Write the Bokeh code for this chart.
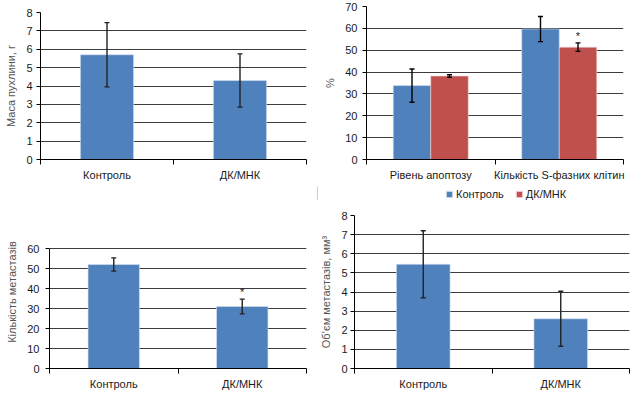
from bokeh.plotting import figure
from bokeh.models import (ColumnDataSource, Whisker, FixedTicker, Legend, LegendItem,
                          TeeHead, Range1d)
from bokeh.layouts import column, row
from bokeh.transform import dodge
from bokeh.embed import file_html
from bokeh.resources import INLINE
from bokeh.core.properties import value

# ---------------- data ----------------
groups = ["Контроль", "ДК/МНК"]

mass_mean = [5.7, 4.3]
mass_err = [1.75, 1.45]

cell_categories = ["Рівень апоптозу", "Кількість S-фазних клітин"]
cell_control = [33.8, 59.7]
cell_control_err = [7.6, 5.75]
cell_dk = [38.2, 51.4]
cell_dk_err = [0.6, 1.95]

met_count = [52, 31]
met_count_err = [3.3, 3.7]

met_volume = [5.45, 2.6]
met_volume_err = [1.75, 1.44]

# significance marks (index of the ДК/МНК bar that is starred)
star_cell_index = [1]
star_count_index = [1]

BLUE = "#4f81bd"
RED = "#c0504d"
FONT = "Liberation Sans"
TXT = "#1a1a1a"
TITLE = "#555555"
GRID = "#3c3c3c"


def base_fig(fw, fh, ymax, ystep, ylabel, labels,
             mbl, mbr, mbt, mbb, tick_std, lab_std, yview=None):
    n = len(labels)
    top = yview if yview is not None else ymax
    p = figure(frame_width=fw, frame_height=fh, x_range=Range1d(0, n),
               y_range=Range1d(0, top), output_backend="svg",
               toolbar_location=None, frame_align=False,
               min_border_left=mbl, min_border_right=mbr,
               min_border_top=mbt, min_border_bottom=mbb)
    p.outline_line_color = None
    p.background_fill_color = "white"
    p.border_fill_color = "white"
    centers = [i + 0.5 for i in range(n)]
    p.xaxis.ticker = FixedTicker(ticks=centers, minor_ticks=list(range(n + 1)))
    p.xaxis.major_label_overrides = {c: l for c, l in zip(centers, labels)}
    p.xaxis.major_tick_out = 0
    p.xaxis.major_tick_in = 0
    p.xaxis.minor_tick_out = 5
    p.xaxis.minor_tick_in = 0
    p.xaxis.major_label_standoff = 4
    p.xaxis.axis_line_color = "black"
    p.xaxis.minor_tick_line_color = "black"
    p.xgrid.grid_line_color = None

    p.yaxis.ticker = FixedTicker(ticks=list(range(0, ymax + ystep, ystep)))
    p.yaxis.bounds = (0, ymax)
    p.yaxis.minor_tick_line_color = None
    p.yaxis.major_tick_out = 4
    p.yaxis.major_tick_in = 0
    p.yaxis.major_label_standoff = tick_std
    p.yaxis.axis_line_color = "black"
    p.yaxis.major_tick_line_color = "black"
    p.yaxis.axis_label = ylabel
    p.yaxis.axis_label_standoff = lab_std
    p.ygrid.grid_line_color = GRID
    p.ygrid.grid_line_width = 1

    for ax in (p.xaxis, p.yaxis):
        ax.major_label_text_font = FONT
        ax.major_label_text_font_size = "11px"
        ax.major_label_text_color = TXT
        ax.axis_label_text_font = FONT
        ax.axis_label_text_font_size = "11px"
        ax.axis_label_text_font_style = "normal"
        ax.axis_label_text_color = TITLE
    return p


def whisker(p, src, xfield="x", color="#222222"):
    w = Whisker(base=xfield, upper="upper", lower="lower", source=src,
                line_color=color, line_width=1.4, level="overlay",
                upper_head=TeeHead(size=5, line_color=color, line_width=1.4),
                lower_head=TeeHead(size=5, line_color=color, line_width=1.4))
    p.add_layout(w)


def simple_panel(vals, errs, ymax, ystep, ylabel, fw, fh,
                 mbl, mbr, mbt, mbb, tick_std, lab_std, star_idx=None, bw=0.4,
                 yview=None):
    p = base_fig(fw, fh, ymax, ystep, ylabel, groups,
                 mbl, mbr, mbt, mbb, tick_std, lab_std, yview)
    xs = [i + 0.5 for i in range(len(groups))]
    src = ColumnDataSource(dict(x=xs, top=vals,
                                upper=[v + e for v, e in zip(vals, errs)],
                                lower=[v - e for v, e in zip(vals, errs)]))
    p.vbar(x="x", top="top", width=bw, source=src, fill_color=BLUE,
           line_color="#d6e0ee", line_width=0.6)
    whisker(p, src)
    if star_idx:
        ssrc = ColumnDataSource(dict(x=[xs[i] for i in star_idx],
                                     y=[vals[i] + errs[i] for i in star_idx],
                                     t=["*" for _ in star_idx]))
        p.text(x="x", y="y", text="t", source=ssrc, text_align="center",
               text_baseline="bottom", y_offset=-1, text_font=value(FONT),
               text_font_size="11px", text_color=TXT)
    return p


# ---- panel 1: tumour mass ----
p1 = simple_panel(mass_mean, mass_err, 8, 1, "Маса пухлини, г", 266, 147,
                  40, 11, 12, 41, 4, 6)

# ---- panel 2: apoptosis / S-phase ----
p2 = base_fig(257, 153, 70, 10, "%", cell_categories, 49, 11, 6, 27, 5, 6)
xs2 = [i + 0.5 for i in range(len(cell_categories))]
src_c = ColumnDataSource(dict(x=xs2, top=cell_control,
                              upper=[v + e for v, e in zip(cell_control, cell_control_err)],
                              lower=[v - e for v, e in zip(cell_control, cell_control_err)]))
src_d = ColumnDataSource(dict(x=xs2, top=cell_dk,
                              upper=[v + e for v, e in zip(cell_dk, cell_dk_err)],
                              lower=[v - e for v, e in zip(cell_dk, cell_dk_err)]))
off = 0.146
r_c = p2.vbar(x=dodge("x", -off, range=p2.x_range), top="top", width=0.292,
              source=src_c, fill_color=BLUE, line_color="#d6e0ee", line_width=0.6)
r_d = p2.vbar(x=dodge("x", off, range=p2.x_range), top="top", width=0.292,
              source=src_d, fill_color=RED, line_color="#f0d8d8", line_width=0.6)
src_cw = ColumnDataSource(dict(x=[x - off for x in xs2],
                               upper=src_c.data["upper"], lower=src_c.data["lower"]))
src_dw = ColumnDataSource(dict(x=[x + off for x in xs2],
                               upper=src_d.data["upper"], lower=src_d.data["lower"]))
whisker(p2, src_cw, color="black")
whisker(p2, src_dw, color="black")
star2 = ColumnDataSource(dict(x=[xs2[i] + off for i in star_cell_index],
                              y=[cell_dk[i] + cell_dk_err[i] for i in star_cell_index],
                              t=["*" for _ in star_cell_index]))
p2.text(x="x", y="y", text="t", source=star2, text_align="center",
        text_baseline="bottom", y_offset=-1, text_font=value(FONT),
        text_font_size="11px", text_color=TXT)

# legend strip under panel 2 (legend swatches use off-screen proxy bars)
pl = figure(width=317, height=14, output_backend="svg", toolbar_location=None,
            x_axis_type=None, y_axis_type=None, frame_align=False,
            x_range=Range1d(0, 1), y_range=Range1d(0, 1),
            min_border_left=0, min_border_right=0, min_border_top=0, min_border_bottom=0)
pl.outline_line_color = None
pl.xgrid.grid_line_color = None
pl.ygrid.grid_line_color = None
lr_c = pl.vbar(x=[-5], top=[1], width=0.3, fill_color=BLUE, line_color="#d6e0ee")
lr_d = pl.vbar(x=[-5], top=[1], width=0.3, fill_color=RED, line_color="#f0d8d8")
legend = Legend(items=[LegendItem(label="Контроль", renderers=[lr_c]),
                       LegendItem(label="ДК/МНК", renderers=[lr_d])],
                orientation="horizontal", location=(128, 0),
                glyph_width=8, glyph_height=8, label_standoff=3, spacing=11,
                padding=0, margin=0, border_line_color=None,
                background_fill_alpha=0,
                label_text_font=FONT, label_text_font_size="11px",
                label_text_color=TXT, label_height=12)
pl.add_layout(legend)

# ---- panel 3: metastasis count (axis drawn over the lower 120 px of a 153 px frame) ----
p3 = simple_panel(met_count, met_count_err, 60, 10, "Кількість метастазів", 257, 153,
                  49, 11, 15, 25, 6, 6, star_idx=star_count_index,
                  yview=60 * 153 / 120)

# ---- panel 4: metastasis volume ----
p4 = simple_panel(met_volume, met_volume_err, 8, 1, "Об’єм метастазів, мм³", 275, 153,
                  37, 5, 15, 25, 3, 6, bw=0.39)

layout = column(row(p1, column(p2, pl)), row(p3, p4))

open("out.html", "w").write(file_html(layout, INLINE))
